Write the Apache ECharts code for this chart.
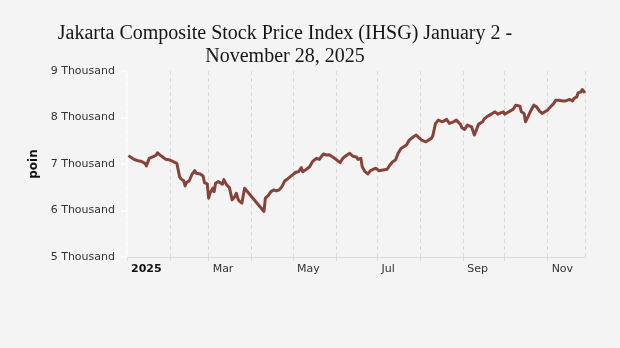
<!DOCTYPE html>
<html>
<head>
<meta charset="utf-8">
<script src="https://cdn.jsdelivr.net/npm/echarts@6/dist/echarts.min.js"></script>
<style>
html,body{margin:0;padding:0;background:#f4f4f4;}
#c{width:620px;height:348px;}
</style>
</head>
<body>
<div id="c"></div>
<script>
// Data
const dates = [
'2025-01-02','2025-01-06','2025-01-09','2025-01-11','2025-01-14','2025-01-15','2025-01-17','2025-01-20','2025-01-22','2025-01-23',
'2025-01-25','2025-01-27','2025-01-29','2025-02-01','2025-02-03','2025-02-04','2025-02-06','2025-02-08','2025-02-09','2025-02-11',
'2025-02-12','2025-02-13','2025-02-15','2025-02-17','2025-02-19','2025-02-20','2025-02-23','2025-02-25','2025-02-26','2025-02-28',
'2025-03-01','2025-03-02','2025-03-04','2025-03-05','2025-03-06','2025-03-08','2025-03-11','2025-03-12','2025-03-14','2025-03-16',
'2025-03-17','2025-03-18','2025-03-20','2025-03-21','2025-03-22','2025-03-23','2025-03-25','2025-03-26','2025-03-27','2025-03-28',
'2025-04-10','2025-04-11','2025-04-13','2025-04-15','2025-04-17','2025-04-19','2025-04-21','2025-04-23','2025-04-25','2025-04-27',
'2025-04-30','2025-05-03','2025-05-05','2025-05-07','2025-05-08','2025-05-11','2025-05-13','2025-05-15','2025-05-18','2025-05-20',
'2025-05-21','2025-05-23','2025-05-25','2025-05-27','2025-05-30','2025-06-01','2025-06-04','2025-06-06','2025-06-09','2025-06-11',
'2025-06-13','2025-06-14','2025-06-16','2025-06-17','2025-06-19','2025-06-20','2025-06-22','2025-06-24','2025-06-26','2025-06-28',
'2025-06-30','2025-07-02','2025-07-05','2025-07-08','2025-07-10','2025-07-12','2025-07-14','2025-07-16','2025-07-18','2025-07-20',
'2025-07-22','2025-07-24','2025-07-27','2025-07-29','2025-07-31','2025-08-02','2025-08-03','2025-08-05','2025-08-06','2025-08-09',
'2025-08-10','2025-08-12','2025-08-14','2025-08-17','2025-08-18','2025-08-20','2025-08-22','2025-08-23','2025-08-25','2025-08-27',
'2025-08-28','2025-08-30','2025-08-31','2025-09-02','2025-09-04','2025-09-05','2025-09-07','2025-09-09','2025-09-10','2025-09-12',
'2025-09-15','2025-09-16','2025-09-18','2025-09-20','2025-09-22','2025-09-24','2025-09-26','2025-09-28','2025-09-30','2025-10-01',
'2025-10-03','2025-10-05','2025-10-07','2025-10-09','2025-10-12','2025-10-13','2025-10-15','2025-10-16','2025-10-18','2025-10-20',
'2025-10-22','2025-10-24','2025-10-26','2025-10-28','2025-10-30','2025-11-01','2025-11-03','2025-11-05','2025-11-07','2025-11-09',
'2025-11-12','2025-11-14','2025-11-17','2025-11-19','2025-11-20','2025-11-22','2025-11-23','2025-11-25','2025-11-26','2025-11-28'
];
const values = [
7180,7100,7070,7060,7015,6960,7120,7157,7190,7240,
7190,7144,7100,7086,7058,7071,7015,6728,6680,6640,
6530,6600,6640,6780,6857,6800,6786,6743,6600,6572,
6265,6372,6480,6406,6587,6621,6565,6664,6550,6492,
6514,6229,6300,6372,6265,6207,6158,6136,6479,6514,
5980,6265,6321,6406,6443,6421,6443,6514,6636,6679,
6750,6822,6835,6921,6835,6893,6942,7050,7123,7100,
7144,7215,7193,7200,7144,7100,7028,7123,7193,7230,
7172,7144,7144,7100,7123,6942,6835,6786,6857,6887,
6908,6857,6872,6887,6979,7050,7086,7233,7333,7371,
7408,7515,7586,7622,7564,7515,7530,7478,7515,7551,
7607,7873,7944,7907,7894,7959,7873,7894,7907,7944,
7959,7852,7779,7744,7837,7873,7800,7622,7693,7852,
7907,7965,8014,8051,8087,8122,8072,8100,8122,8072,
8109,8143,8173,8265,8244,8122,8087,7907,8029,8158,
8265,8229,8143,8087,8122,8158,8229,8287,8372,8372,
8357,8357,8388,8357,8409,8443,8529,8550,8602,8529
];
const monthLabels = ['2025','','Mar','','May','','Jul','','Sep','','Nov',''];
const yTicks = [5000,6000,7000,8000,9000];
const yTickLabels = ['5 Thousand','6 Thousand','7 Thousand','8 Thousand','9 Thousand'];
const titleText = 'Jakarta Composite Stock Price Index (IHSG) January 2 -\nNovember 28, 2025';
const yName = 'poin';

function toTime(s){const p=s.split('-').map(Number);return new Date(p[0],p[1]-1,p[2]).getTime();}
const seriesData = dates.map((d,i)=>[toTime(d), values[i]]);

const chart = echarts.init(document.getElementById('c'), null, {renderer:'canvas'});
chart.setOption({
  backgroundColor:'#f4f4f4',
  animation:false,
  title:{
    text:titleText,
    left:280, top:17, textAlign:'center',
    textStyle:{fontFamily:'Liberation Serif', fontSize:20, fontWeight:'normal', color:'#151515', lineHeight:23}
  },
  grid:{left:127, right:35, top:71, bottom:91, containLabel:false},
  xAxis:{
    type:'time',
    min:toTime('2025-01-01'),
    max:toTime('2025-11-28'),
    splitNumber:11,
    minInterval:28*86400000,
    maxInterval:31*86400000,
    axisLine:{show:true, lineStyle:{color:'#dcdcdc', width:1}},
    axisTick:{show:true, length:4, lineStyle:{color:'#dcdcdc'}},
    splitLine:{show:true, lineStyle:{color:'#dadada', type:[4,3], width:1}},
    axisLabel:{
      align:'left', margin:7, padding:[0,0,0,4],
      fontFamily:'DejaVu Sans', fontSize:11, color:'#333',
      showMinLabel:true, showMaxLabel:false, hideOverlap:false,
      formatter:function(v){
        const d=new Date(v);
        if(d.getDate()!==1) return '';
        const m=d.getMonth();
        if(m===0) return '{b|'+monthLabels[0]+'}';
        return monthLabels[m];
      },
      rich:{b:{fontFamily:'DejaVu Sans', fontSize:11, fontWeight:'bold', color:'#111'}}
    }
  },
  yAxis:{
    type:'value', min:5000, max:9000, interval:1000,
    name:yName, nameLocation:'middle', nameGap:86, nameRotate:90,
    nameTextStyle:{fontFamily:'DejaVu Sans', fontSize:12, fontWeight:'bold', color:'#111'},
    axisLine:{show:true, lineStyle:{color:'#ffffff', width:1.5}},
    axisTick:{show:true, length:6, lineStyle:{color:'#ffffff', width:1.5}},
    splitLine:{show:false},
    axisLabel:{margin:12, fontFamily:'DejaVu Sans', fontSize:11, color:'#333',
      formatter:function(v){const i=yTicks.indexOf(v);return i>=0?yTickLabels[i]:'';}}
  },
  series:[{
    type:'line', data:seriesData, showSymbol:false, symbol:'none',
    lineStyle:{color:'#87423a', width:3, join:'round'},
    itemStyle:{color:'#87423a'}
  }]
});
</script>
</body>
</html>
